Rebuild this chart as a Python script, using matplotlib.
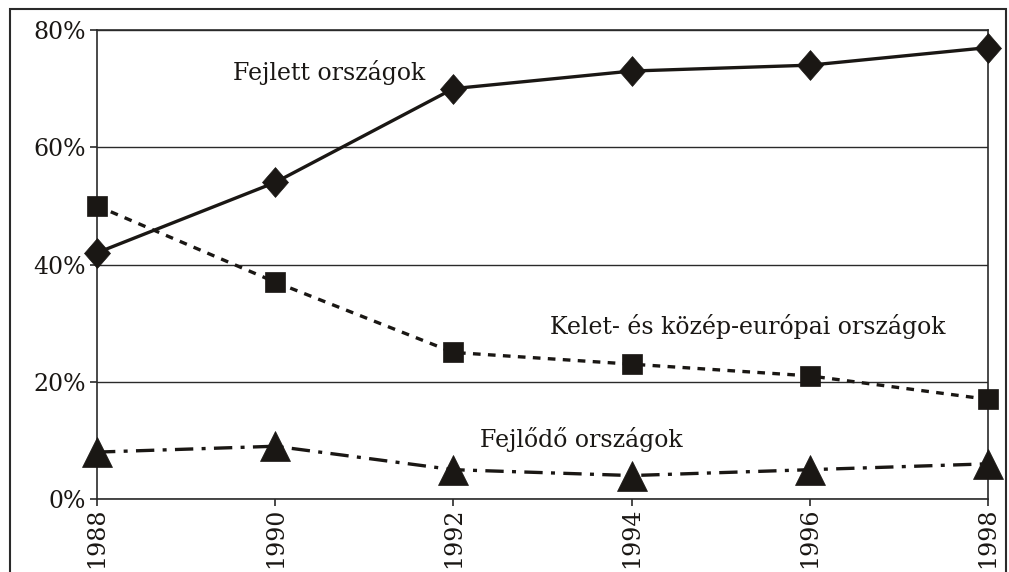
import matplotlib
matplotlib.use("Agg")
import matplotlib.pyplot as plt
from matplotlib.patches import Rectangle
from matplotlib.path import Path

years = [1988, 1990, 1992, 1994, 1996, 1998]
fejlett = [42, 54, 70, 73, 74, 77]
kelet = [50, 37, 25, 23, 21, 17]
fejlodo = [8, 9, 5, 4, 5, 6]
yticks = [0, 20, 40, 60, 80]
ytick_labels = ["0%", "20%", "40%", "60%", "80%"]
label_fejlett = "Fejlett országok"
label_kelet = "Kelet- és közép-európai országok"
label_fejlodo = "Fejlődő országok"

plt.rcParams['font.family'] = ['DejaVu Serif']

fig = plt.figure(figsize=(10.09, 5.72), dpi=100)
ax = fig.add_axes([97/1009, 73/572, 891/1009, 469/572])

col = '#1a1714'
diamond = Path([(0, 1), (0.87, 0), (0, -1), (-0.87, 0), (0, 1)],
               [Path.MOVETO, Path.LINETO, Path.LINETO, Path.LINETO, Path.CLOSEPOLY])
ax.plot(years, fejlett, color=col, lw=2.4, ls='-', marker=diamond, ms=21.5, mew=0.5,
        zorder=3, clip_on=False)
ax.plot(years, kelet, color=col, lw=2.4, ls=(0, (2.3, 2.2)), marker='s', ms=14.5, mew=0.5,
        zorder=3, clip_on=False)
ax.plot(years, fejlodo, color=col, lw=2.4, ls=(0, (5.5, 2.5, 1.2, 2.5)), marker='^', ms=21,
        mew=0.5, zorder=3, clip_on=False)

ax.set_xlim(1988, 1998)
ax.set_ylim(0, 80)
ax.set_yticks(yticks)
ax.set_yticklabels(ytick_labels)
ax.set_xticks(years)
ax.set_xticklabels([str(y) for y in years], rotation=90)
ax.yaxis.grid(True, color='#2a2a2a', lw=1.0)
ax.set_axisbelow(True)
for s in ax.spines.values():
    s.set_color('#2a2a2a')
    s.set_linewidth(1.2)
ax.tick_params(axis='both', direction='out', length=5, width=1.2, color='#2a2a2a',
               labelsize=17, labelcolor=col)
ax.tick_params(axis='x', pad=1)
ax.tick_params(axis='y', pad=3)

ax.text(1990.6, 72.7, label_fejlett, fontsize=17, color=col, ha='center', va='center')
ax.text(1995.3, 29.5, label_kelet, fontsize=17, color=col, ha='center', va='center')
ax.text(1993.43, 10.2, label_fejlodo, fontsize=17, color=col, ha='center', va='center')

fig.patches.append(Rectangle((10/1009, -0.1), 996/1009, 1.1 - 9/572, transform=fig.transFigure,
                             fill=False, edgecolor='#2a2a2a', lw=1.5))

fig.savefig("out.png", dpi=100)
